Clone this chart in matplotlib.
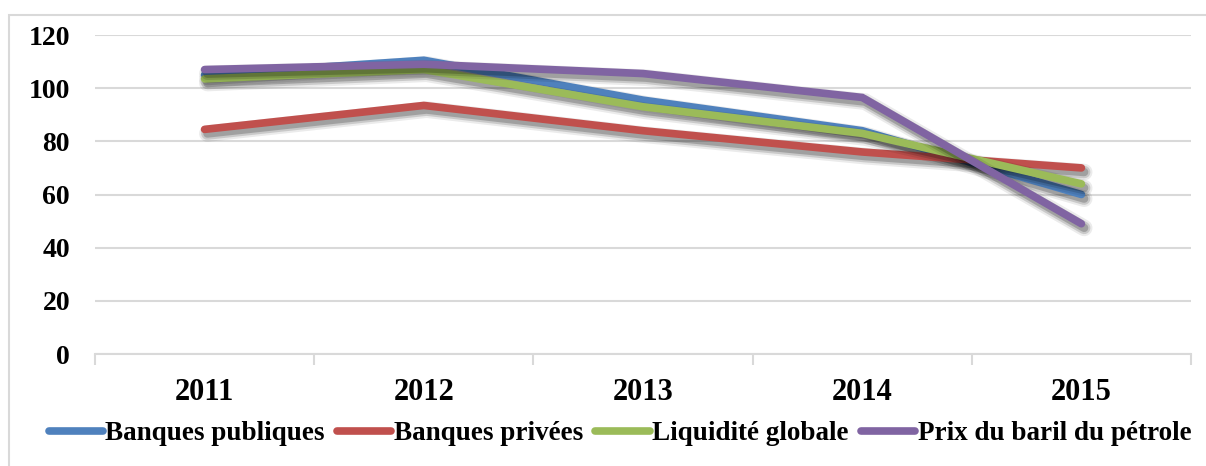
import matplotlib
matplotlib.use("Agg")
import matplotlib.pyplot as plt
import matplotlib.patheffects as pe
from matplotlib.patches import Rectangle

# Données
annees = ["2011", "2012", "2013", "2014", "2015"]
banques_publiques = [105, 110.5, 95.5, 84, 60]
banques_privees = [84.5, 93.5, 84, 76, 70]
liquidite_globale = [103.5, 107, 93, 83, 64]
prix_baril = [107, 109, 105.5, 96.5, 49]

series = [
    ("Banques publiques", banques_publiques, "#4F81BD"),
    ("Banques privées", banques_privees, "#C0504D"),
    ("Liquidité globale", liquidite_globale, "#9BBB59"),
    ("Prix du baril du pétrole", prix_baril, "#8064A2"),
]

plt.rcParams["font.family"] = ["Liberation Serif", "DejaVu Serif"]
plt.rcParams["font.weight"] = "bold"

fig = plt.figure(figsize=(12.06, 4.66), dpi=100)
ax = fig.add_axes([95 / 1206, 1 - 354 / 466, 1096 / 1206, 319 / 466])

# cadre du graphique
fig.patches.append(Rectangle((9 / 1206, -0.1), 1.2, 1.1 - 15 / 466,
                             transform=fig.transFigure, fill=False,
                             edgecolor="#D9D9D9", linewidth=1.5, zorder=0))

# ombre floue approximée
ombre = [
    pe.SimpleLineShadow(offset=(2, -3), shadow_color="black", alpha=0.08, linewidth=12),
    pe.SimpleLineShadow(offset=(2, -3), shadow_color="black", alpha=0.14, linewidth=9),
    pe.SimpleLineShadow(offset=(2, -3), shadow_color="black", alpha=0.2, linewidth=6),
    pe.Normal(),
]

x = range(len(annees))
for nom, valeurs, couleur in series:
    ax.plot(x, valeurs, color=couleur, linewidth=5.5, label=nom,
            solid_capstyle="round", solid_joinstyle="miter",
            path_effects=ombre, zorder=3)

ax.set_xlim(-0.5, len(annees) - 0.5)
ax.set_ylim(0, 120)
ax.set_yticks(range(0, 121, 20))
ax.set_xticks(list(x))
ax.set_xticklabels(annees, fontsize=22, fontweight="bold")
ax.set_xticks([i - 0.5 for i in range(len(annees) + 1)], minor=True)
ax.tick_params(axis="x", which="major", length=0, pad=17)
ax.tick_params(axis="x", which="minor", length=8, width=1.5, color="#D9D9D9")
ax.tick_params(axis="y", length=0, pad=18, labelsize=20)
for lab in ax.get_yticklabels():
    lab.set_fontweight("bold")

ax.grid(axis="y", color="#D9D9D9", linewidth=1.5, zorder=0)
for s in ["top", "right", "left"]:
    ax.spines[s].set_visible(False)
ax.spines["bottom"].set_color("#D9D9D9")
ax.spines["bottom"].set_linewidth(1.5)
ax.spines["bottom"].set_zorder(1)

leg = ax.legend(loc="center", bbox_to_anchor=(620 / 1206, 1 - 434 / 466),
                bbox_transform=fig.transFigure, ncol=4, frameon=False,
                prop={"size": 19.5, "weight": "bold"}, handlelength=2.0,
                handletextpad=0.1, columnspacing=0.45, borderpad=0)
for h in leg.get_lines():
    h.set_linewidth(5.5)
    h.set_solid_capstyle("round")
    h.set_path_effects([])

fig.savefig("out.png", dpi=100)
